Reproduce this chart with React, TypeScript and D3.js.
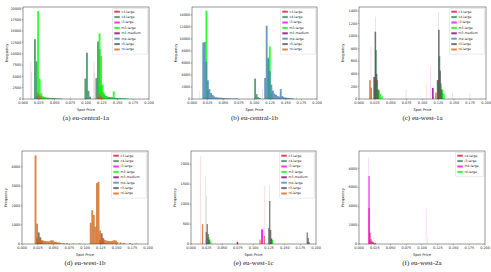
import React from 'react';
import * as d3 from 'd3';

type Bin = [number, number];

// ---------- shared ----------
const COLORS = ['#dc143c', '#2e8b57', '#ff00ff', '#00ff00', '#800080', '#4682b4', '#555555', '#d2691e'];
const NAMES_ALL = ['c3.large', 'c4.large', 'i3.large', 'm3.large', 'm3.medium', 'm4.large', 'r3.large', 'r4.large'];
const NAMES_F = ['c4.large', 'i3.large', 'm4.large', 'r4.large'];
const X_TICKS = [0, 0.025, 0.05, 0.075, 0.1, 0.125, 0.15, 0.175, 0.2];

// ---------- (a) eu-central-1a ----------
const aC3Spikes: Bin[] = [[0.012, 8300], [0.112, 8300]];
const aC4: Bin[] = [[0.0175, 13200], [0.02, 8300], [0.0225, 1500], [0.025, 900], [0.0275, 600], [0.03, 450], [0.0325, 350], [0.035, 300], [0.0375, 280], [0.04, 250], [0.0425, 220], [0.045, 200], [0.0475, 170], [0.05, 150], [0.0525, 130], [0.055, 120], [0.0575, 100], [0.06, 80],
  [0.0975, 4500], [0.1, 10200], [0.1025, 1800], [0.105, 500],
  [0.115, 4600], [0.1175, 12700], [0.12, 11000], [0.1225, 3000], [0.125, 1500], [0.1275, 900], [0.13, 700], [0.1325, 550], [0.135, 450], [0.1375, 400], [0.14, 350], [0.1425, 300], [0.145, 250], [0.1475, 220], [0.15, 200], [0.1525, 170], [0.155, 150], [0.1575, 130], [0.16, 120], [0.1625, 100], [0.165, 80]];
const aM3: Bin[] = [[0.0225, 19400], [0.025, 4500], [0.0275, 1300], [0.03, 600], [0.0325, 400], [0.035, 300], [0.04, 200], [0.045, 150], [0.05, 100],
  [0.12, 14500], [0.1225, 9500], [0.125, 3200], [0.1275, 1200], [0.13, 600], [0.1325, 400], [0.1375, 300], [0.1425, 1700], [0.145, 300], [0.15, 200], [0.16, 150], [0.17, 80]];
const aM3mSpikes: Bin[] = [[0.0125, 6000], [0.1125, 6000]];
const aM4: Bin[] = [[0.02, 700], [0.0225, 500], [0.12, 600], [0.1225, 400]];
const aR3: Bin[] = [[0.0225, 400], [0.12, 500]];
const aR3Spikes: Bin[] = [[0.075, 600]];
const aR4: Bin[] = [[0.0225, 1100], [0.025, 700], [0.0275, 300], [0.1175, 500], [0.12, 1100], [0.1225, 600], [0.125, 300]];

// ---------- (b) eu-central-1b ----------
const bC4: Bin[] = [[0.0995, 3400], [0.102, 800], [0.1045, 300], [0.107, 150], [0.07, 100]];
const bC4Spikes: Bin[] = [[0.167, 400]];
const bM3: Bin[] = [[0.0215, 14700], [0.024, 1500], [0.1205, 6900], [0.123, 8750], [0.1255, 1000], [0.145, 150]];
const bM4: Bin[] = [[0.0165, 9400], [0.019, 9500], [0.0215, 6200], [0.024, 3100], [0.0265, 1650], [0.029, 1000], [0.0315, 700], [0.034, 450], [0.037, 300], [0.04, 250], [0.0425, 220], [0.045, 200], [0.0475, 170], [0.05, 150], [0.0525, 130], [0.055, 120], [0.0575, 110], [0.06, 100], [0.0625, 80], [0.065, 70], [0.0675, 65], [0.07, 60],
  [0.1155, 3500], [0.118, 12200], [0.1205, 6700], [0.123, 4600], [0.1255, 2400], [0.128, 1400], [0.1305, 900], [0.133, 700], [0.1355, 500], [0.138, 400], [0.1405, 1650], [0.143, 500], [0.1455, 300], [0.148, 250], [0.15, 200], [0.1525, 170], [0.155, 150], [0.1575, 120], [0.16, 100]];
const bR3Spikes: Bin[] = [[0.011, 1400], [0.112, 1650]];

// ---------- (c) eu-west-1a ----------
const cC3Spikes: Bin[] = [[0.0183, 830], [0.117, 200]];
const cC4: Bin[] = [[0.0235, 350], [0.0255, 780], [0.0275, 300], [0.03, 120], [0.1235, 300], [0.1255, 680], [0.1275, 250], [0.13, 100]];
const cI3Spikes: Bin[] = [[0.112, 520]];
const cM3: Bin[] = [[0.0275, 200], [0.03, 150], [0.0325, 80], [0.035, 40], [0.1275, 200], [0.13, 150], [0.1325, 80]];
const cM3m: Bin[] = [[0.115, 175]];
const cR3: Bin[] = [[0.0225, 350], [0.0245, 1070], [0.0265, 400], [0.0285, 150], [0.1225, 300], [0.1245, 1100], [0.1265, 450], [0.1285, 150]];
const cR3Spikes: Bin[] = [[0.0255, 1310], [0.1245, 1390], [0.0735, 150], [0.147, 100], [0.174, 100]];
const cR4: Bin[] = [[0.016, 300], [0.018, 180], [0.12, 100]];
const cR4Spikes: Bin[] = [[0.106, 230]];

// ---------- (d) eu-west-1b ----------
const dC4: Bin[] = [[0.025, 150], [0.125, 120]];
const dR3: Bin[] = [[0.0225, 300], [0.025, 600], [0.0275, 350], [0.03, 150], [0.1225, 200], [0.125, 550], [0.1275, 300]];
const dR4: Bin[] = [[0.02, 4590], [0.0225, 1050], [0.025, 350], [0.0275, 250], [0.03, 200], [0.0325, 180], [0.035, 150], [0.0375, 150], [0.04, 130], [0.0425, 150], [0.045, 200], [0.0475, 180], [0.05, 120], [0.0525, 100], [0.055, 80], [0.0575, 70], [0.06, 60], [0.065, 50], [0.07, 40], [0.08, 30], [0.09, 30],
  [0.1075, 1100], [0.11, 1750], [0.1125, 1500], [0.115, 900], [0.1175, 3150], [0.12, 3220], [0.1225, 700], [0.125, 350], [0.1275, 250], [0.13, 200], [0.1325, 180], [0.135, 160], [0.1375, 150], [0.14, 150], [0.1425, 170], [0.145, 200], [0.1475, 180], [0.15, 100], [0.155, 80], [0.16, 60], [0.17, 40], [0.18, 30]];

// ---------- (e) eu-west-1c ----------
const eC3Spikes: Bin[] = [[0.015, 2200], [0.1175, 1460]];
const eC4: Bin[] = [[0.026, 150], [0.0275, 100], [0.1265, 120]];
const eI3: Bin[] = [[0.112, 370], [0.1135, 360], [0.073, 60]];
const eM3: Bin[] = [[0.0275, 180], [0.029, 120], [0.0305, 60], [0.128, 150], [0.1295, 100]];
const eM3m: Bin[] = [[0.0735, 40]];
const eR3: Bin[] = [[0.0235, 300], [0.025, 500], [0.0265, 250], [0.028, 100], [0.1235, 400], [0.125, 1080], [0.1265, 350], [0.128, 120], [0.185, 290], [0.1865, 150], [0.188, 50]];
const eR3Spikes: Bin[] = [[0.023, 1700], [0.024, 1200], [0.125, 1460]];
const eR4: Bin[] = [[0.0175, 500], [0.1095, 110], [0.1165, 200]];

// ---------- (f) eu-west-2a ----------
const fC4: Bin[] = [[0.015, 3800], [0.0165, 1200], [0.018, 500], [0.0195, 300], [0.021, 200], [0.0225, 150], [0.025, 100]];
const fM4: Bin[] = [[0.015, 7200]];
const fM4Spikes: Bin[] = [[0.0148, 9100], [0.106, 3800]];
const fR4Spikes: Bin[] = [[0.1085, 700]];

type Series = { name: string; color: string; bars: Bin[]; spikes: Bin[] };
type Panel = {
  caption: string; left: number; top: number; right: number; bottom: number;
  yMax: number; yTicks: number[]; binW: number; legendW: number; series: Series[];
};

const mk = (names: string[], data: Record<string, [Bin[], Bin[]]>): Series[] =>
  names.map((n, i) => ({ name: n, color: COLORS[i], bars: (data[n] || [[], []])[0], spikes: (data[n] || [[], []])[1] }));

const PANELS: Panel[] = [
  {
    caption: '(a)  eu-central-1a', left: 23, top: 7, right: 149, bottom: 99, yMax: 20300,
    yTicks: d3.range(0, 20001, 2500), binW: 0.0025, legendW: 35,
    series: mk(NAMES_ALL, {
      'c3.large': [[], aC3Spikes], 'c4.large': [aC4, []], 'm3.large': [aM3, []],
      'm3.medium': [[], aM3mSpikes], 'm4.large': [aM4, []], 'r3.large': [aR3, aR3Spikes], 'r4.large': [aR4, []],
    }),
  },
  {
    caption: '(b)  eu-central-1b', left: 192, top: 7, right: 317, bottom: 99, yMax: 15330,
    yTicks: d3.range(0, 14001, 2000), binW: 0.0025, legendW: 35,
    series: mk(NAMES_ALL, {
      'c4.large': [bC4, bC4Spikes], 'm3.large': [bM3, []], 'm4.large': [bM4, []], 'r3.large': [[], bR3Spikes],
    }),
  },
  {
    caption: '(c)  eu-west-1a', left: 359, top: 7, right: 486, bottom: 99, yMax: 1463,
    yTicks: d3.range(0, 1401, 200), binW: 0.002, legendW: 35,
    series: mk(NAMES_ALL, {
      'c3.large': [[], cC3Spikes], 'c4.large': [cC4, []], 'i3.large': [[], cI3Spikes], 'm3.large': [cM3, []],
      'm3.medium': [cM3m, []], 'r3.large': [cR3, cR3Spikes], 'r4.large': [cR4, cR4Spikes],
    }),
  },
  {
    caption: '(d)  eu-west-1b', left: 22, top: 151, right: 148, bottom: 244, yMax: 4814,
    yTicks: d3.range(0, 4001, 1000), binW: 0.0025, legendW: 35,
    series: mk(NAMES_ALL, { 'c4.large': [dC4, []], 'r3.large': [dR3, []], 'r4.large': [dR4, []] }),
  },
  {
    caption: '(e)  eu-west-1c', left: 191, top: 151, right: 316, bottom: 244, yMax: 2333,
    yTicks: d3.range(0, 2001, 500), binW: 0.0015, legendW: 35,
    series: mk(NAMES_ALL, {
      'c3.large': [[], eC3Spikes], 'c4.large': [eC4, []], 'i3.large': [eI3, []], 'm3.large': [eM3, []],
      'm3.medium': [eM3m, []], 'r3.large': [eR3, eR3Spikes], 'r4.large': [eR4, []],
    }),
  },
  {
    caption: '(f)  eu-west-2a', left: 359, top: 151, right: 485, bottom: 244, yMax: 9840,
    yTicks: d3.range(0, 8001, 2000), binW: 0.0015, legendW: 28,
    series: mk(NAMES_F, { 'c4.large': [fC4, []], 'm4.large': [fM4, fM4Spikes], 'r4.large': [[], fR4Spikes] }),
  },
];

const SANS = 'DejaVu Sans, sans-serif';
const SERIF = 'Liberation Serif, Times New Roman, serif';

function PanelView({ p }: { p: Panel }) {
  const x = d3.scaleLinear().domain([0, 0.2]).range([p.left, p.right]);
  const y = d3.scaleLinear().domain([0, p.yMax]).range([p.bottom, p.top]);
  const fmtX = d3.format('.3f');
  const cx = (p.left + p.right) / 2;
  const lx = p.right - 1.5 - p.legendW;
  const ly = p.top + 1.5;
  const rowH = 5.4;
  const lh = p.series.length * rowH + 2.5;
  return (
    <g>
      <rect x={p.left} y={p.top} width={p.right - p.left} height={p.bottom - p.top} fill="#fff" />
      {p.series.map((s) => (
        <g key={s.name}>
          {s.bars.map(([b, c], i) => (
            <rect key={'b' + i} x={x(b)} y={y(c)} width={Math.max(0.6, x(b + p.binW) - x(b) + 0.3)} height={y(0) - y(c)}
              fill={s.color} fillOpacity={0.8} />
          ))}
          {s.spikes.map(([b, c], i) => (
            <rect key={'s' + i} x={x(b)} y={y(c)} width={0.7} height={y(0) - y(c)} fill={s.color} fillOpacity={0.2} />
          ))}
        </g>
      ))}
      <rect x={p.left} y={p.top} width={p.right - p.left} height={p.bottom - p.top} fill="none" stroke="#333" strokeWidth={0.5} />
      {X_TICKS.map((t) => (
        <g key={t}>
          <line x1={x(t)} x2={x(t)} y1={p.bottom} y2={p.bottom + 1.2} stroke="#333" strokeWidth={0.4} />
          <text x={x(t)} y={p.bottom + 5} fontSize={3.4} fontFamily={SANS} textAnchor="middle" fill="#222">{fmtX(t)}</text>
        </g>
      ))}
      {p.yTicks.map((t) => (
        <g key={t}>
          <line x1={p.left - 1.2} x2={p.left} y1={y(t)} y2={y(t)} stroke="#333" strokeWidth={0.4} />
          <text x={p.left - 1.8} y={y(t) + 1.2} fontSize={3.4} fontFamily={SANS} textAnchor="end" fill="#222">{t}</text>
        </g>
      ))}
      <text x={cx} y={p.bottom + 11.5} fontSize={3.6} fontFamily={SANS} textAnchor="middle" fill="#222">Spot Price</text>
      <text transform={`translate(${p.left - 15.5},${(p.top + p.bottom) / 2}) rotate(-90)`} fontSize={3.6} fontFamily={SANS}
        textAnchor="middle" fill="#222">Frequency</text>
      <rect x={lx} y={ly} width={p.legendW} height={lh} fill="#fff" fillOpacity={0.85} stroke="#ccc" strokeWidth={0.4} rx={0.8} />
      {p.series.map((s, i) => (
        <g key={'l' + s.name}>
          <rect x={lx + 1.8} y={ly + 2.2 + i * rowH} width={5.5} height={2} fill={s.color} fillOpacity={0.8} />
          <text x={lx + 9} y={ly + 4.1 + i * rowH} fontSize={3.2} fontFamily={SANS} fill="#222">{s.name}</text>
        </g>
      ))}
      <text x={cx} y={p.bottom + 20.5} fontSize={7} fontFamily={SERIF} textAnchor="middle" fill="#222">{p.caption}</text>
    </g>
  );
}

export default function App() {
  return (
    <svg width={491} height={272} viewBox="0 0 491 272" style={{ position: 'absolute', left: 0, top: 0, background: '#fff' }}>
      <rect width={491} height={272} fill="#fff" />
      {PANELS.map((p) => <PanelView key={p.caption} p={p} />)}
    </svg>
  );
}
